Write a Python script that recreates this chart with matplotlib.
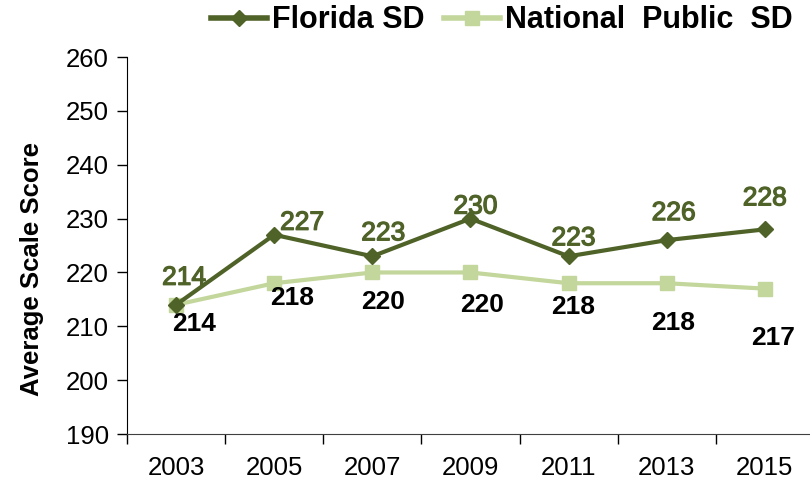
import numpy as np
import matplotlib.pyplot as plt
import matplotlib.patheffects as pe

years = ['2003', '2005', '2007', '2009', '2011', '2013', '2015']
florida = [214, 227, 223, 230, 223, 226, 228]
national = [214, 218, 220, 220, 218, 218, 217]

# label offsets in pixels (dx, dy)
fl_off = [(8, 27), (28, 12), (11, 23), (5, 12), (5, 18), (7, 27), (0, 31)]
na_off = [(18, -19), (18, -15), (11, -30), (12, -33), (5, -24), (6, -40), (8, -49)]

dark = '#4F6228'
light = '#C3D69B'

plt.rcParams['font.family'] = ['Liberation Sans', 'DejaVu Sans']

fig = plt.figure(figsize=(8.1, 4.79), dpi=100)
ax = fig.add_axes([0.1568, 0.0939, 0.848, 0.787])

x = np.arange(len(years))
ax.plot(x, florida, color=dark, lw=3.0, marker='D', ms=8, label='Florida SD', zorder=3)
ax.plot(x, national, color=light, lw=3.0, marker='s', ms=10, label='National  Public  SD', zorder=2)

for i in range(len(years)):
    ax.annotate(str(florida[i]), (x[i], florida[i]), textcoords='offset pixels',
                xytext=fl_off[i], ha='center', va='center', fontsize=19, color=dark,
                path_effects=[pe.withStroke(linewidth=0.9, foreground=dark)])
    ax.annotate(str(national[i]), (x[i], national[i]), textcoords='offset pixels',
                xytext=na_off[i], ha='center', va='center', fontsize=19,
                fontweight='bold', color='black')

ax.set_xlim(-0.5, len(years) - 0.5)
ax.set_ylim(190, 260)
ax.set_yticks(np.arange(190, 261, 10))
ax.tick_params(axis='y', labelsize=18.5, length=7, width=1, direction='out', pad=6)

ax.set_xticks(x)
ax.set_xticklabels(years)
ax.set_xticks(np.arange(-0.5, len(years), 1), minor=True)
ax.tick_params(axis='x', which='major', length=0, labelsize=18.5, pad=16)
ax.tick_params(axis='x', which='minor', length=7, width=1, direction='out')

for s in ['top', 'right']:
    ax.spines[s].set_visible(False)
ax.spines['left'].set_color('black')
ax.spines['bottom'].set_color('#404040')

ax.set_ylabel('Average Scale Score', fontsize=18.5, fontweight='bold')
ax.yaxis.set_label_coords(-0.121, 0.438)

leg = ax.legend(loc='center', bbox_to_anchor=(0.546, 1.097), ncol=2, frameon=False,
                prop={'size': 22, 'weight': 'bold'},
                handlelength=1.83, columnspacing=0.65, handletextpad=0.16, borderpad=0)
for h in leg.get_lines():
    h.set_linewidth(4)

fig.savefig('out.png', dpi=100)
